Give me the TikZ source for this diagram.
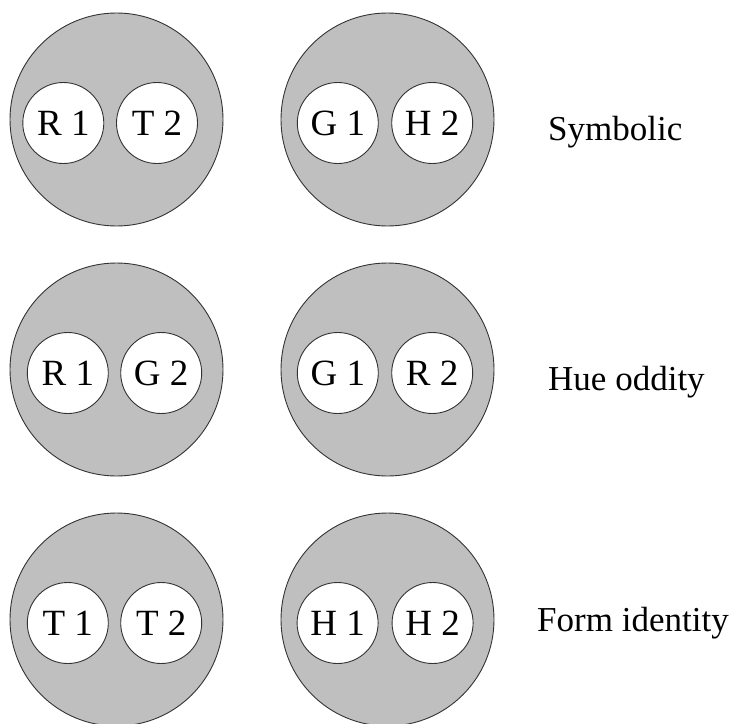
\documentclass[tikz,border=0pt]{standalone}
\usepackage{fontspec}
\setmainfont{Liberation Serif}
\begin{document}
\begin{tikzpicture}[x=1pt,y=-1pt,
  bigc/.style={circle,draw=black!80,line width=0.9pt,fill=black!25,minimum size=213pt,inner sep=0pt},
  smallc/.style={circle,draw=black!80,line width=0.9pt,fill=white,minimum size=81pt,inner sep=0pt,font=\fontsize{37pt}{40pt}\selectfont},
  lab/.style={anchor=base west,inner sep=0pt,font=\fontsize{35pt}{40pt}\selectfont}]
\useasboundingbox (0,0) rectangle (735,723);
% row 1
\node[bigc] (b11) at (116.5,119.5) {};
\node[bigc] (b12) at (387.5,119.5) {};
\node[smallc] (s111) at (63.3,123) {R 1};
\node[smallc] (s112) at (157,123) {T 2};
\node[smallc] (s121) at (337.8,123) {G 1};
\node[smallc] (s122) at (432.2,123) {H 2};
\node[lab] (l1) at (548,140) {Symbolic};
% row 2
\node[bigc] (b21) at (116.5,369.5) {};
\node[bigc] (b22) at (387.5,369.5) {};
\node[smallc] (s211) at (67.8,373) {R 1};
\node[smallc] (s212) at (161.2,373) {G 2};
\node[smallc] (s221) at (337.8,373) {G 1};
\node[smallc] (s222) at (432.2,373) {R 2};
\node[lab] (l2) at (548,390) {Hue oddity};
% row 3
\node[bigc] (b31) at (116.5,619.5) {};
\node[bigc] (b32) at (387.5,619.5) {};
\node[smallc] (s311) at (67.8,623) {T 1};
\node[smallc] (s312) at (161.2,623) {T 2};
\node[smallc] (s321) at (337.6,623) {H 1};
\node[smallc] (s322) at (432.6,623) {H 2};
\node[lab] (l3) at (537,631) {Form identity};
\end{tikzpicture}
\end{document}
